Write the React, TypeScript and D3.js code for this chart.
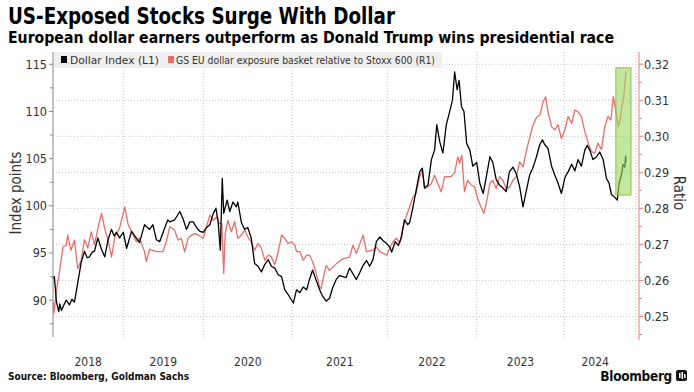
import React from 'react';
import * as d3 from 'd3';

const title = 'US-Exposed Stocks Surge With Dollar';
const subtitle = 'European dollar earners outperform as Donald Trump wins presidential race';
const source = 'Source: Bloomberg, Goldman Sachs';
const dollarLabel = 'Dollar Index (L1)';
const ratioLabel = 'GS EU dollar exposure basket relative to Stoxx 600 (R1)';

const leftTicks = [90, 95, 100, 105, 110, 115];
const leftMinor = [87.5, 92.5, 97.5, 102.5, 107.5, 112.5];
const rightTicks = [0.25, 0.26, 0.27, 0.28, 0.29, 0.3, 0.31, 0.32];
const rightMinor = [0.245, 0.255, 0.265, 0.275, 0.285, 0.295, 0.305, 0.315];
const years = [2018, 2019, 2020, 2021, 2022, 2023, 2024];

// Dollar index
const dollarIndex: [string, number][] = [
  ['2018-01-02', 92.3], ['2018-01-09', 92.5], ['2018-01-20', 89.8], ['2018-02-01', 88.8], ['2018-02-06', 89.6],
  ['2018-02-15', 88.9], ['2018-02-23', 89.3], ['2018-03-11', 90.0], ['2018-03-28', 89.5], ['2018-04-10', 90.1],
  ['2018-04-23', 89.8], ['2018-05-10', 91.8], ['2018-05-28', 94.0], ['2018-06-14', 95.2], ['2018-06-28', 94.5],
  ['2018-07-10', 94.6], ['2018-07-24', 95.1], ['2018-08-05', 95.2], ['2018-08-22', 96.6], ['2018-09-10', 95.4],
  ['2018-09-27', 94.6], ['2018-10-14', 96.4], ['2018-11-01', 97.5], ['2018-11-15', 96.8], ['2018-11-26', 97.2],
  ['2018-12-13', 96.6], ['2019-01-01', 97.2], ['2019-01-16', 95.5], ['2019-02-08', 97.3], ['2019-02-23', 96.8],
  ['2019-03-16', 96.1], ['2019-04-08', 98.0], ['2019-05-01', 97.5], ['2019-05-16', 98.0], ['2019-06-01', 96.4],
  ['2019-06-16', 96.2], ['2019-07-08', 97.6], ['2019-07-23', 98.5], ['2019-08-01', 98.3], ['2019-08-23', 98.5],
  ['2019-09-16', 99.4], ['2019-10-01', 98.6], ['2019-10-16', 97.5], ['2019-11-01', 98.3], ['2019-11-16', 98.3],
  ['2019-12-01', 97.7], ['2019-12-16', 97.3], ['2020-01-01', 97.2], ['2020-01-14', 97.7], ['2020-01-28', 98.0],
  ['2020-02-11', 99.2], ['2020-02-22', 99.75], ['2020-03-02', 98.3], ['2020-03-11', 95.3], ['2020-03-19', 102.9],
  ['2020-03-25', 99.2], ['2020-04-08', 100.6], ['2020-04-19', 99.4], ['2020-05-02', 100.4], ['2020-05-16', 99.9],
  ['2020-05-22', 100.4], ['2020-06-06', 98.2], ['2020-06-19', 97.5], ['2020-07-02', 97.7], ['2020-07-16', 96.6],
  ['2020-07-30', 93.9], ['2020-08-13', 93.6], ['2020-08-27', 93.0], ['2020-09-10', 93.8], ['2020-09-24', 94.3],
  ['2020-10-07', 93.6], ['2020-10-21', 93.4], ['2020-11-04', 92.7], ['2020-11-18', 92.5], ['2020-12-01', 91.1],
  ['2020-12-15', 90.6], ['2021-01-05', 89.7], ['2021-01-17', 91.1], ['2021-01-30', 90.8], ['2021-02-12', 91.4],
  ['2021-02-25', 91.1], ['2021-03-08', 92.2], ['2021-03-20', 93.2], ['2021-04-03', 92.1], ['2021-04-16', 91.1],
  ['2021-04-28', 90.4], ['2021-05-11', 89.9], ['2021-05-24', 90.2], ['2021-06-06', 91.4], ['2021-06-19', 92.2],
  ['2021-07-01', 92.6], ['2021-07-27', 92.4], ['2021-08-09', 93.4], ['2021-08-22', 92.8], ['2021-09-04', 92.2],
  ['2021-09-17', 92.9], ['2021-09-30', 93.7], ['2021-10-13', 94.2], ['2021-10-25', 93.6], ['2021-11-07', 94.3],
  ['2021-11-20', 96.2], ['2021-12-03', 96.7], ['2021-12-16', 96.3], ['2021-12-30', 96.0], ['2022-01-12', 95.6],
  ['2022-01-19', 95.1], ['2022-02-02', 96.2], ['2022-02-15', 95.8], ['2022-02-28', 96.7], ['2022-03-12', 98.5],
  ['2022-03-25', 98.0], ['2022-04-02', 98.2], ['2022-04-16', 99.9], ['2022-04-29', 101.7], ['2022-05-13', 103.6],
  ['2022-05-24', 104.0], ['2022-06-02', 101.9], ['2022-06-16', 102.2], ['2022-06-30', 104.9], ['2022-07-13', 105.9],
  ['2022-07-22', 108.6], ['2022-08-03', 106.8], ['2022-08-16', 105.6], ['2022-08-30', 108.6], ['2022-09-13', 110.0],
  ['2022-09-24', 111.2], ['2022-10-03', 114.2], ['2022-10-13', 112.3], ['2022-10-21', 113.3], ['2022-10-31', 110.5],
  ['2022-11-10', 110.0], ['2022-11-21', 106.6], ['2022-12-04', 105.9], ['2022-12-16', 104.2], ['2023-01-01', 104.6],
  ['2023-01-14', 102.4], ['2023-01-28', 101.3], ['2023-02-11', 103.2], ['2023-02-25', 105.2], ['2023-03-09', 104.6],
  ['2023-03-23', 102.8], ['2023-04-06', 102.2], ['2023-04-20', 101.9], ['2023-05-04', 101.5], ['2023-05-17', 103.6],
  ['2023-06-01', 104.1], ['2023-06-15', 103.4], ['2023-06-29', 102.0], ['2023-07-13', 99.9], ['2023-07-26', 101.5],
  ['2023-08-10', 103.3], ['2023-08-23', 104.0], ['2023-09-07', 105.2], ['2023-09-21', 106.5], ['2023-10-02', 107.0],
  ['2023-10-11', 106.5], ['2023-10-25', 106.1], ['2023-11-09', 104.2], ['2023-11-22', 103.3], ['2023-12-06', 102.4],
  ['2023-12-20', 101.3], ['2024-01-04', 103.0], ['2024-01-20', 103.6], ['2024-02-07', 104.4], ['2024-02-23', 103.7],
  ['2024-03-10', 104.9], ['2024-03-27', 104.2], ['2024-04-13', 105.9], ['2024-04-25', 106.4], ['2024-05-08', 105.9],
  ['2024-05-24', 104.9], ['2024-06-11', 105.2], ['2024-06-27', 105.7], ['2024-07-14', 104.9], ['2024-07-31', 102.9],
  ['2024-08-13', 102.4], ['2024-08-25', 101.2], ['2024-09-06', 101.0], ['2024-09-23', 100.6], ['2024-10-03', 102.4],
  ['2024-10-15', 103.4], ['2024-10-22', 104.4], ['2024-10-31', 104.1], ['2024-11-04', 105.3], ['2024-11-06', 104.6],
];

// GS EU dollar exposure basket / Stoxx 600
const basketRatio: [string, number][] = [
  ['2018-01-02', 0.254], ['2018-01-07', 0.2509], ['2018-01-20', 0.2573], ['2018-02-06', 0.2629], ['2018-02-23', 0.2693],
  ['2018-03-11', 0.2697], ['2018-03-19', 0.2726], ['2018-04-05', 0.2684], ['2018-04-23', 0.2712], ['2018-05-10', 0.2633],
  ['2018-05-28', 0.2656], ['2018-06-14', 0.2713], ['2018-07-01', 0.269], ['2018-07-19', 0.2735], ['2018-08-05', 0.27],
  ['2018-08-22', 0.2743], ['2018-09-10', 0.2786], ['2018-09-27', 0.2743], ['2018-10-14', 0.2713], ['2018-11-01', 0.2665],
  ['2018-11-18', 0.272], ['2018-12-13', 0.2746], ['2019-01-08', 0.2804], ['2019-01-23', 0.2755], ['2019-02-08', 0.2736],
  ['2019-03-02', 0.2707], ['2019-03-16', 0.2718], ['2019-04-08', 0.268], ['2019-04-16', 0.2652], ['2019-05-01', 0.2686],
  ['2019-06-01', 0.268], ['2019-07-01', 0.268], ['2019-07-16', 0.2707], ['2019-08-01', 0.2749], ['2019-08-23', 0.274],
  ['2019-09-08', 0.2712], ['2019-09-23', 0.2717], ['2019-10-08', 0.2679], ['2019-10-23', 0.2717], ['2019-11-08', 0.2726],
  ['2019-11-23', 0.273], ['2019-12-08', 0.2726], ['2020-01-01', 0.2717], ['2020-01-14', 0.2749], ['2020-01-28', 0.2781],
  ['2020-02-11', 0.2767], ['2020-02-25', 0.2776], ['2020-03-08', 0.2758], ['2020-03-17', 0.2758], ['2020-03-25', 0.2619],
  ['2020-03-31', 0.273], ['2020-04-11', 0.2767], ['2020-04-25', 0.2735], ['2020-05-09', 0.2763], ['2020-05-22', 0.2717],
  ['2020-06-06', 0.2726], ['2020-06-19', 0.274], ['2020-07-02', 0.2721], ['2020-07-16', 0.2707], ['2020-07-30', 0.2684],
  ['2020-08-13', 0.2703], ['2020-08-27', 0.2689], ['2020-09-10', 0.2656], ['2020-09-24', 0.267], ['2020-10-07', 0.2666],
  ['2020-10-21', 0.2643], ['2020-11-04', 0.2679], ['2020-11-18', 0.2726], ['2020-12-01', 0.2717], ['2020-12-15', 0.2703],
  ['2020-12-29', 0.2707], ['2021-01-11', 0.2698], ['2021-01-17', 0.268], ['2021-01-30', 0.268], ['2021-02-12', 0.2656],
  ['2021-02-25', 0.267], ['2021-03-08', 0.267], ['2021-03-20', 0.2652], ['2021-04-03', 0.2619], ['2021-04-16', 0.2582],
  ['2021-04-22', 0.2577], ['2021-04-28', 0.26], ['2021-05-11', 0.2642], ['2021-05-24', 0.2628], ['2021-06-06', 0.2637],
  ['2021-06-19', 0.2646], ['2021-07-14', 0.266], ['2021-08-09', 0.2665], ['2021-08-22', 0.2698], ['2021-09-04', 0.2675],
  ['2021-09-30', 0.2726], ['2021-10-13', 0.268], ['2021-11-07', 0.2684], ['2021-11-20', 0.2693], ['2021-12-03', 0.268],
  ['2021-12-30', 0.267], ['2022-01-12', 0.2693], ['2022-01-25', 0.2708], ['2022-02-08', 0.2717], ['2022-02-21', 0.2703],
  ['2022-03-06', 0.2749], ['2022-03-19', 0.2777], ['2022-04-02', 0.2804], ['2022-04-16', 0.2832], ['2022-04-29', 0.2841],
  ['2022-05-13', 0.2888], ['2022-05-24', 0.2906], ['2022-06-02', 0.2855], ['2022-06-16', 0.286], ['2022-06-30', 0.2869],
  ['2022-07-13', 0.2892], ['2022-07-26', 0.2869], ['2022-08-09', 0.2846], ['2022-08-23', 0.2888], ['2022-09-19', 0.2888],
  ['2022-10-03', 0.29], ['2022-10-16', 0.2943], ['2022-10-23', 0.2925], ['2022-11-01', 0.2948], ['2022-11-12', 0.2846],
  ['2022-11-25', 0.2878], ['2022-12-09', 0.2865], ['2022-12-23', 0.286], ['2023-01-07', 0.2823], ['2023-01-21', 0.28],
  ['2023-01-31', 0.2786], ['2023-02-11', 0.2818], ['2023-02-25', 0.2869], ['2023-03-09', 0.2878], ['2023-03-23', 0.2855],
  ['2023-04-06', 0.2888], ['2023-04-20', 0.2878], ['2023-05-04', 0.2855], ['2023-05-17', 0.2858], ['2023-06-01', 0.2878],
  ['2023-06-15', 0.2888], ['2023-06-29', 0.2929], ['2023-07-13', 0.2915], ['2023-07-26', 0.2957], ['2023-08-10', 0.2997],
  ['2023-08-23', 0.303], ['2023-09-07', 0.3052], ['2023-09-21', 0.3059], ['2023-10-05', 0.3096], ['2023-10-15', 0.311],
  ['2023-10-25', 0.3068], ['2023-11-09', 0.3027], ['2023-11-22', 0.3018], ['2023-12-06', 0.3032], ['2023-12-20', 0.2994],
  ['2024-01-04', 0.3018], ['2024-01-20', 0.3055], ['2024-02-07', 0.3036], ['2024-02-23', 0.3073], ['2024-03-10', 0.3068],
  ['2024-03-27', 0.3055], ['2024-04-13', 0.3013], ['2024-04-30', 0.2981], ['2024-05-16', 0.2958], ['2024-06-02', 0.2953],
  ['2024-06-18', 0.2981], ['2024-07-06', 0.2963], ['2024-07-22', 0.3027], ['2024-08-08', 0.3055], ['2024-08-22', 0.3045],
  ['2024-09-03', 0.311], ['2024-09-16', 0.3073], ['2024-09-28', 0.3027], ['2024-10-06', 0.304], ['2024-10-15', 0.3077],
  ['2024-10-26', 0.311], ['2024-11-06', 0.318],
];

// highlighted window (dates, ratio-axis values)
const boxDates = ['2024-09-16', '2024-12-01'];
const boxRatio = [0.2837, 0.319];

const xAnchors = ['2018-01-02', '2019-01-01', '2020-01-01', '2021-01-01', '2022-01-01', '2023-01-01', '2024-01-01', '2024-11-06'];

const FONT = "'DejaVu Sans Condensed', 'DejaVu Sans', sans-serif";
const parse = d3.timeParse('%Y-%m-%d');

export default function App() {
  const width = 694;
  const height = 392;
  const left = 53;
  const right = 639;
  const top = 52;
  const bottom = 337;

  // x is piecewise so the year grid lines land where the picture has them
  const x = d3.scaleTime()
    .domain(xAnchors.map(d => parse(d) as Date))
    .range([left, 123.3, 203.3, 292.3, 387.3, 476.7, 564.3, 626]);
  const yL = d3.scaleLinear().domain([86.1, 116.3]).range([bottom, top]);
  const yR = d3.scaleLinear().domain([0.2443, 0.3234]).range([bottom, top]);

  const lineL = d3.line<[string, number]>()
    .x(d => x(parse(d[0]) as Date))
    .y(d => yL(d[1]));
  const lineR = d3.line<[string, number]>()
    .x(d => x(parse(d[0]) as Date))
    .y(d => yR(d[1]));

  const start = parse(xAnchors[0]) as Date;
  const end = parse(xAnchors[xAnchors.length - 1]) as Date;
  const yearLabelX = (yr: number) => {
    const a = Math.max(+start, +new Date(yr, 0, 1));
    const b = Math.min(+end, +new Date(yr + 1, 0, 1));
    return (x(new Date(a)) + x(new Date(b))) / 2;
  };

  const bx0 = x(parse(boxDates[0]) as Date);
  const bx1 = x(parse(boxDates[1]) as Date);
  const by0 = yR(boxRatio[1]);
  const by1 = yR(boxRatio[0]);

  const axisRed = '#e8807c';
  const textCol = '#333';

  return (
    <svg width={width} height={height} style={{ position: 'absolute', left: 0, top: 0, background: '#fff' }} fontFamily={FONT}>
      <rect width={width} height={height} fill="#fff" />
      <text x={8} y={23.5} fontSize={23} fontWeight="bold" textLength={387} lengthAdjust="spacingAndGlyphs">{title}</text>
      <text x={8} y={42.5} fontSize={15.5} fontWeight="bold" textLength={606} lengthAdjust="spacingAndGlyphs">{subtitle}</text>

      {/* grid */}
      {rightTicks.map(t => (
        <line key={'h' + t} x1={left} x2={636} y1={yR(t)} y2={yR(t)} stroke="#c4c4c4" strokeDasharray="1,2" />
      ))}
      {years.slice(1).map(yr => (
        <line key={'v' + yr} x1={x(new Date(yr, 0, 1))} x2={x(new Date(yr, 0, 1))} y1={top} y2={bottom + 3} stroke="#c4c4c4" strokeDasharray="1,2" />
      ))}
      <line x1={636} x2={636} y1={top} y2={bottom + 3} stroke="#c4c4c4" strokeDasharray="1,2" />

      {/* legend */}
      <rect x={left + 1} y={top} width={388} height={16} fill="#efefef" />
      <rect x={61} y={56} width={6} height={7} fill="#000" />
      <text x={70} y={63.5} fontSize={10.5} fill={textCol} textLength={89} lengthAdjust="spacingAndGlyphs">{dollarLabel}</text>
      <rect x={168} y={56} width={6} height={7} fill="#e86e6a" />
      <text x={176} y={63.5} fontSize={10.5} fill={textCol} textLength={259} lengthAdjust="spacingAndGlyphs">{ratioLabel}</text>

      {/* series */}
      <path d={lineR(basketRatio) || ''} fill="none" stroke="#e86e6a" strokeWidth={1.3} strokeLinejoin="round" />
      <path d={lineL(dollarIndex) || ''} fill="none" stroke="#000" strokeWidth={1.3} strokeLinejoin="round" />

      {/* highlight */}
      <rect x={bx0} y={by0} width={bx1 - bx0} height={by1 - by0} fill="#9fd660" fillOpacity={0.6} stroke="#86c040" strokeWidth={1} />

      {/* left axis */}
      <line x1={left} x2={left} y1={top} y2={bottom} stroke="#888" />
      {leftTicks.map(t => (
        <g key={'l' + t}>
          <line x1={left - 4} x2={left} y1={yL(t)} y2={yL(t)} stroke="#888" />
          <text x={left - 6} y={yL(t)} dy="0.35em" textAnchor="end" fontSize={12.5} fill={textCol}>{t}</text>
        </g>
      ))}
      {leftMinor.map(t => (
        <line key={'lm' + t} x1={left - 3} x2={left} y1={yL(t)} y2={yL(t)} stroke="#888" />
      ))}
      <text transform={`translate(21,193) rotate(-90)`} textAnchor="middle" fontSize={15} fill={textCol}>Index points</text>

      {/* right axis */}
      <line x1={right} x2={right} y1={top} y2={bottom + 3} stroke={axisRed} />
      {rightTicks.map(t => (
        <g key={'r' + t}>
          <line x1={right} x2={right + 4} y1={yR(t)} y2={yR(t)} stroke={axisRed} />
          <text x={right + 5} y={yR(t)} dy="0.35em" fontSize={12.5} fill={textCol}>{t.toFixed(2)}</text>
        </g>
      ))}
      {rightMinor.map(t => (
        <line key={'rm' + t} x1={right} x2={right + 3} y1={yR(t)} y2={yR(t)} stroke={axisRed} />
      ))}
      <text transform={`translate(674,193) rotate(90)`} textAnchor="middle" fontSize={15} fill={textCol}>Ratio</text>

      {/* x labels */}
      {years.map(yr => (
        <text key={'y' + yr} x={yearLabelX(yr)} y={366} textAnchor="middle" fontSize={12} fill={textCol}>{yr}</text>
      ))}

      <text x={8} y={380} fontSize={10} fontWeight="bold" fill="#111">{source}</text>
      <text x={672} y={381} textAnchor="end" fontSize={13.5} fontWeight="bold" fill="#111" letterSpacing={-0.3}>Bloomberg</text>
      <rect x={676} y={370} width={11} height={11} rx={2} fill="#111" />
      <rect x={679} y={373} width={1.5} height={5} fill="#fff" />
      <rect x={681.5} y={372} width={1.5} height={7} fill="#fff" />
      <rect x={684} y={374} width={1.5} height={4} fill="#fff" />
    </svg>
  );
}
